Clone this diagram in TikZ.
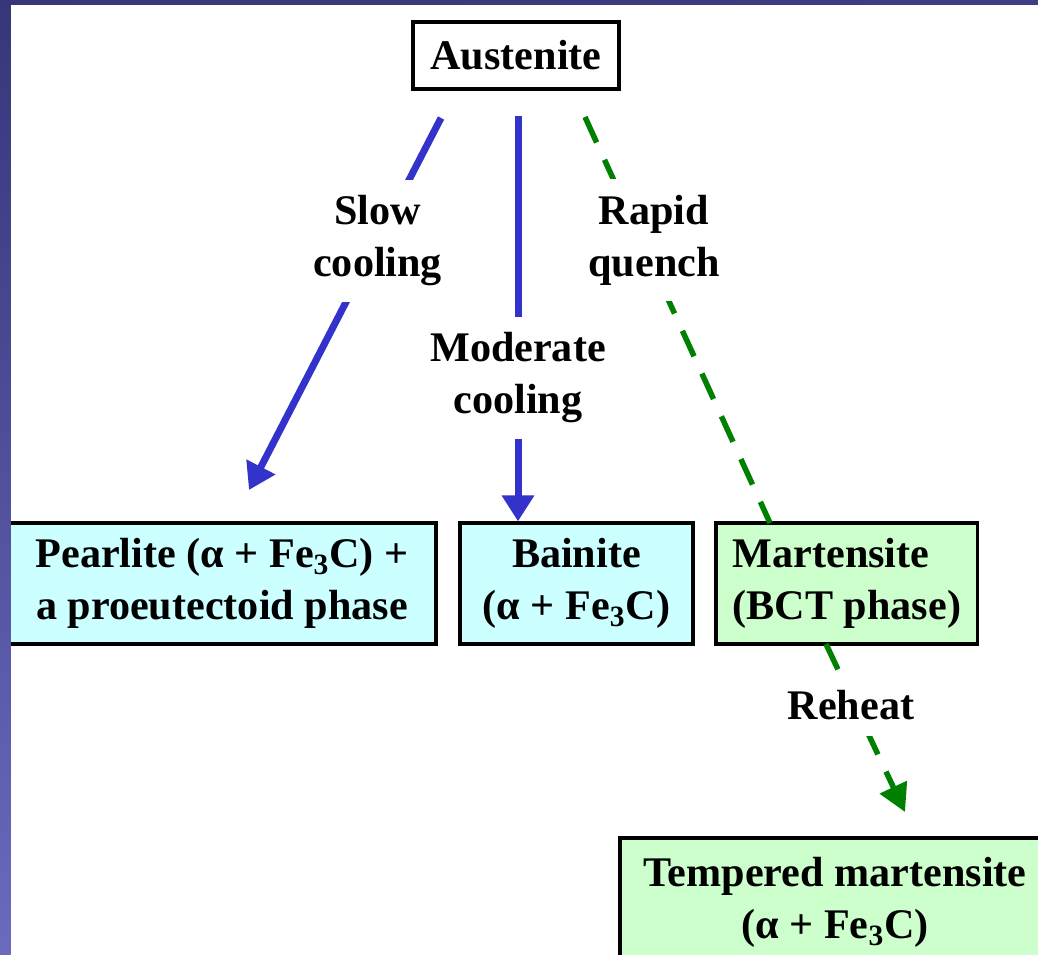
\documentclass[tikz,border=0pt]{standalone}
\usepackage{fontspec}
\setmainfont{Liberation Serif}
\usepackage{tikz}
\usetikzlibrary{arrows.meta,positioning}
\definecolor{coolblue}{RGB}{51,51,204}
\definecolor{quenchgreen}{RGB}{0,128,0}
\definecolor{pcyan}{RGB}{204,255,255}
\definecolor{pgreen}{RGB}{204,255,204}
\definecolor{bartop}{RGB}{54,54,122}
\definecolor{barbot}{RGB}{106,106,190}
\tikzset{lbl/.style={fill=white,text=black,inner xsep=2pt,inner ysep=0.32cm,align=center}}
\tikzstyle{phase}=[draw, line width=0.065cm, inner sep=0pt, align=center]
\tikzstyle{cool}=[coolblue, line width=0.14cm, -{Triangle[length=0.52cm,width=0.62cm]}]
\tikzstyle{quench}=[quenchgreen, line width=0.11cm, dash pattern=on 0.56cm off 0.38cm]

\begin{document}
\begin{tikzpicture}[x=0.02cm,y=-0.02cm,every node/.style={font=\bfseries\fontsize{24}{29.5}\selectfont}]
    \useasboundingbox (0,0) rectangle (1038,954);
    \clip (0,0) rectangle (1038,954);
    % phases
    \node (aus) [phase,minimum width=4.12cm,minimum height=1.34cm] at (516,55.5) {Austenite};
    \node (pearl) [phase,fill=pcyan,minimum width=8.56cm,minimum height=2.42cm] at (222,583.5) {Pearlite (α + Fe\textsubscript{3}C) +\\a proeutectoid phase};
    \node (bain) [phase,fill=pcyan,right of=pearl,node distance=7.09cm,minimum width=4.66cm,minimum height=2.42cm] {Bainite\\(α + Fe\textsubscript{3}C)};
    \node (mart) [phase,fill=pgreen,right of=bain,node distance=5.41cm,minimum width=5.24cm,minimum height=2.42cm,align=left] {Martensite\\(BCT phase)};
    \node (temp) [phase,fill=pgreen,minimum width=8.6cm,minimum height=2.58cm] at (835,902.5) {Tempered martensite\\(α + Fe\textsubscript{3}C)};
    % free ends of the cooling paths
    \coordinate (s1) at (441,118);
    \coordinate (s2) at (249,490);
    \coordinate (m1) at (518,116);
    \coordinate (q1) at (585,117);
    \coordinate (q2) at (770,523);
    \coordinate (r1) at (826,644);
    \coordinate (r2) at (905,812);
    \draw[cool] (s1) -- node[lbl,pos=0.33] {Slow\\cooling} (s2);
    \draw[cool] (m1) -- node[lbl,pos=0.646] {Moderate\\cooling} (m1 |- bain.north);
    \draw[quench] (q1) -- node[lbl,pos=0.303,xshift=0.26cm] {Rapid\\quench} (q2);
    \draw[quench,-{Triangle[length=0.55cm,width=0.58cm]}] (r1) -- node[lbl,pos=0.366,xshift=-0.08cm] {Reheat} (r2);
    % slide frame
    \shade[top color=bartop,bottom color=barbot] (0,0) rectangle (10.5,954);
    \shade[left color=bartop,right color=bartop!85!barbot] (0,0) rectangle (1038,4.5);
\end{tikzpicture}
\end{document}
